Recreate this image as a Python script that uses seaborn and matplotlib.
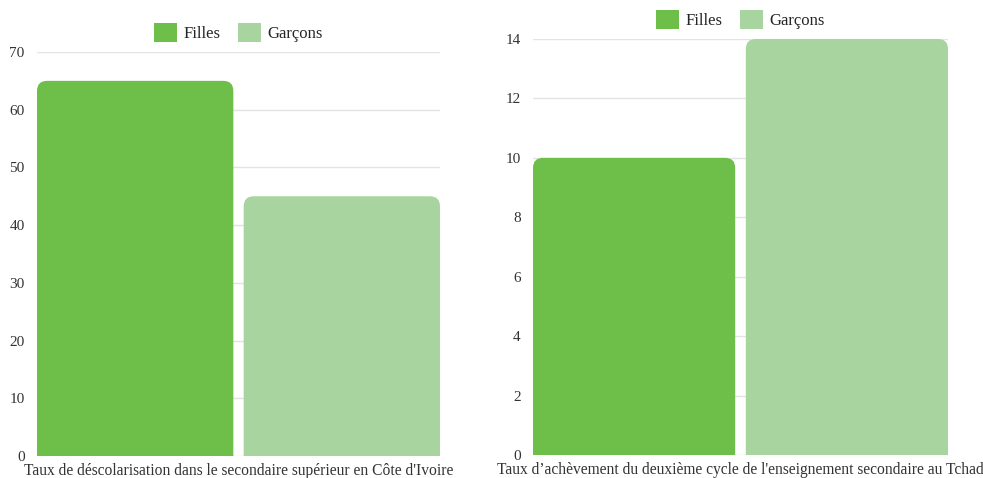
import matplotlib
matplotlib.use("Agg")
import matplotlib.pyplot as plt
import seaborn as sns
import pandas as pd
from matplotlib.patches import FancyBboxPatch, Patch

# data
genres = ["Filles", "Garçons"]
colors = ["#6ebf4a", "#a8d59f"]
cat_left = "Taux de déscolarisation dans le secondaire supérieur en Côte d'Ivoire"
vals_left = [65, 45]
cat_right = "Taux d’achèvement du deuxième cycle de l'enseignement secondaire au Tchad"
vals_right = [10, 14]

sns.set_theme(style="white")
plt.rcParams["font.family"] = ["Liberation Serif", "DejaVu Serif"]

W, H = 983, 478
fig = plt.figure(figsize=(W / 100, H / 100), dpi=100)


def draw(rect, category, values, ymax, step):
    x0, y0, x1, y1 = rect
    ax = fig.add_axes([x0 / W, (H - y1) / H, (x1 - x0) / W, (y1 - y0) / H])
    df = pd.DataFrame({"cat": [category] * len(genres), "genre": genres, "val": values})
    sns.barplot(data=df, x="cat", y="val", hue="genre", palette=colors,
                gap=0.05, width=0.8, saturation=1, legend=False, ax=ax)
    ax.set_xlim(-0.39, 0.39)
    ax.set_ylim(0, ymax)
    ax.set_yticks(range(0, ymax + 1, step))
    ax.grid(axis="y", color="#e3e3e3", linewidth=1)
    ax.set_axisbelow(True)
    for s in ax.spines.values():
        s.set_visible(False)
    ax.set_xlabel("")
    ax.set_ylabel("")
    ax.tick_params(axis="y", length=0, labelsize=11, colors="#333333", pad=9)
    ax.tick_params(axis="x", length=0, labelsize=11.2, colors="#333333", pad=5)

    # round the top corners of each bar (radius ~10 px)
    rx = 10 * 0.78 / (x1 - x0)
    ry = 10 * ymax / (y1 - y0)
    for p in list(ax.patches):
        x, w, h = p.get_x(), p.get_width(), p.get_height()
        fc = p.get_facecolor()
        p.set_visible(False)
        ax.add_patch(FancyBboxPatch((x, -ry), w, h + ry,
                                    boxstyle=f"round,pad=0,rounding_size={rx}",
                                    mutation_aspect=ry / rx, facecolor=fc,
                                    edgecolor="none", zorder=2))

    handles = [Patch(facecolor=c, edgecolor="none", label=g) for g, c in zip(genres, colors)]
    ax.legend(handles=handles, loc="lower center", bbox_to_anchor=(0.5, 1.0),
              ncol=2, frameon=False, handlelength=1.4, handleheight=1.4,
              handletextpad=0.4, columnspacing=1.0, fontsize=12,
              borderaxespad=0.2)
    return ax


draw((37, 52, 440, 456), cat_left, vals_left, 70, 10)
draw((533, 39, 948, 455), cat_right, vals_right, 14, 2)

fig.savefig("out.png", dpi=100)
